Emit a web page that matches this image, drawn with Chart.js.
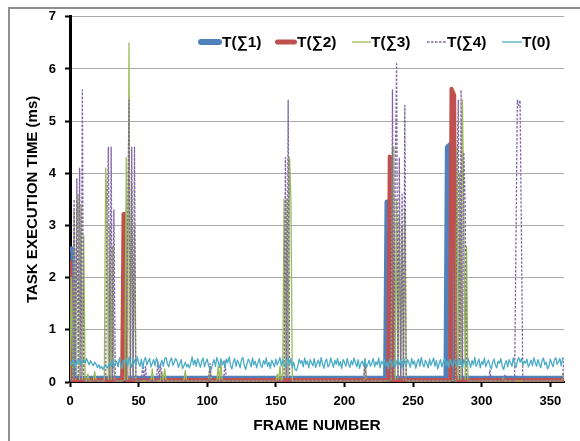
<!DOCTYPE html>
<html><head><meta charset="utf-8">
<script src="https://cdn.jsdelivr.net/npm/chart.js@4.4.1/dist/chart.umd.min.js"></script>
<style>html,body{margin:0;padding:0;background:#fff;}canvas{display:block;}</style>
</head><body>
<canvas id="c" width="580" height="441"></canvas>
<script>
const seriesNames = ['T(\u22111)','T(\u22112)','T(\u22113)','T(\u22114)','T(0)'];
const xTickValues = [0,50,100,150,200,250,300,350];
const xTickLabels = ['0','50','100','150','200','250','300','350'];
const yTickValues = [0,1,2,3,4,5,6,7];
const yTickLabels = ['0','1','2','3','4','5','6','7'];

const s1Frames = [0,2,3,230,231,232,233,274,275,277,278,360];
const s1Values = [2.55,2.55,0.07,0.07,3.45,3.45,0.07,0.07,4.5,4.55,0.07,0.07];

const s2Frames = [0,1,38,39,40,41,232,233,234,235,277,278,280,281,360];
const s2Values = [2.33,0.04,0.04,3.22,3.22,0.04,0.04,4.32,4.3,0.04,0.04,5.62,5.5,0.04,0.04];

const s3Frames = [0,1,2,3,4,5,6,7,8,9,10,11,12,13,14,17,18,19,
  25,26,27,28,29,30,31,32,33,39,40,41,42,43,44,45,46,47,48,
  59,60,61,66,67,68,69,70,83,84,85,101,102,103,107,108,109,110,111,
  150,151,152,153,154,155,156,157,158,159,160,161,162,214,215,216,
  234,235,236,237,238,239,240,241,242,243,244,245,
  281,282,283,284,285,286,287,288,289,290,315,316,317,358,359,360];
const s3Values = [0.02,2.0,0.05,3.3,0.05,3.2,3.6,0.05,3.4,0.05,2.8,0.02,0.02,0.15,0.02,0.02,0.2,0.02,
  0.02,4.1,3.2,0.05,3.0,0.05,2.6,0.25,0.02,0.02,0.05,4.3,0.05,6.5,0.05,3.8,0.05,3.0,0.02,
  0.02,0.25,0.02,0.02,0.2,0.02,0.25,0.02,0.02,0.22,0.02,0.02,0.3,0.02,0.02,0.3,0.02,0.35,0.02,
  0.02,0.15,0.02,0.3,0.02,0.05,3.5,0.1,3.5,0.1,4.3,3.5,0.02,0.02,0.45,0.02,
  0.02,4.5,4.5,0.05,3.5,0.05,3.2,0.05,3.0,0.05,3.3,0.02,
  0.02,4.5,0.05,4.0,0.05,5.4,3.2,0.05,2.6,0.02,0.02,0.08,0.02,0.02,0.05,0.18];

const s4Frames = [0,1,2,3,4,5,6,7,8,9,10,
  26,27,28,29,30,31,32,33,41,42,43,44,45,46,47,48,
  52,53,54,55,56,63,64,65,66,67,101,102,103,112,113,114,
  155,156,157,158,159,160,161,214,215,216,225,226,227,
  234,235,236,237,238,239,240,241,242,243,244,245,
  281,282,283,284,285,286,287,288,289,290,305,306,307,316,317,318,
  324,326,327,328,330,358,359,360];
const s4Values = [0.02,0.05,0.05,3.5,0.05,3.9,0.05,4.1,0.05,5.6,0.02,
  0.02,3.3,4.5,0.05,4.5,0.05,3.3,0.02,0.02,3.0,5.4,0.05,4.5,0.05,4.5,0.02,
  0.02,0.35,0.05,0.3,0.02,0.02,0.4,0.05,0.35,0.02,0.02,0.35,0.02,0.02,0.42,0.02,
  0.02,0.05,4.3,0.1,5.4,0.05,0.02,0.02,0.4,0.02,0.02,0.1,0.02,
  0.02,5.6,0.05,4.0,6.1,0.05,4.3,0.05,3.6,0.05,5.3,0.02,
  0.02,4.0,5.4,0.05,5.6,0.05,4.4,3.4,0.05,0.02,0.02,0.23,0.02,0.02,0.13,0.02,
  0.02,5.4,5.3,5.4,0.02,0.02,0.1,0.45];

const t0Values = [
  0.40,0.33,0.42,0.38,0.30,0.41,0.36,0.44,0.34,0.40,0.43,0.37,0.45,0.39,0.33,0.41,0.35,0.31,0.38,0.34,
  0.28,0.33,0.26,0.30,0.24,0.29,0.33,0.27,0.31,0.36,0.30,0.44,0.28,0.35,0.40,0.29,0.46,0.33,0.26,0.42,
  0.38,0.45,0.30,0.47,0.36,0.28,0.46,0.40,0.32,0.48,0.37,0.30,0.44,0.26,0.41,0.47,0.33,0.39,0.45,0.29,
  0.36,0.43,0.31,0.46,0.38,0.27,0.34,0.42,0.30,0.44,0.47,0.35,0.29,0.41,0.46,0.32,0.38,0.45,0.40,0.28,
  0.35,0.43,0.26,0.31,0.38,0.29,0.34,0.27,0.36,0.48,0.33,0.42,0.30,0.45,0.37,0.28,0.40,0.46,0.29,0.38,
  0.44,0.31,0.26,0.24,0.36,0.43,0.30,0.47,0.39,0.28,0.45,0.33,0.40,0.27,0.44,0.37,0.48,0.31,0.25,0.38,
  0.45,0.30,0.42,0.36,0.27,0.43,0.47,0.32,0.24,0.35,0.44,0.38,0.29,0.46,0.33,0.40,0.27,0.37,0.45,0.31,
  0.28,0.41,0.34,0.46,0.30,0.38,0.26,0.42,0.36,0.29,0.44,0.33,0.39,0.47,0.31,0.43,0.35,0.28,0.41,0.46,
  0.33,0.45,0.27,0.38,0.24,0.22,0.30,0.44,0.36,0.41,0.29,0.46,0.34,0.40,0.27,0.43,0.37,0.31,0.45,0.28,
  0.36,0.42,0.30,0.47,0.35,0.26,0.39,0.44,0.29,0.33,0.46,0.37,0.28,0.42,0.34,0.45,0.31,0.39,0.26,0.43,
  0.38,0.30,0.45,0.35,0.28,0.41,0.33,0.46,0.37,0.29,0.43,0.26,0.36,0.40,0.31,0.44,0.28,0.34,0.42,0.30,
  0.37,0.45,0.29,0.39,0.33,0.46,0.27,0.40,0.35,0.43,0.31,0.38,0.25,0.44,0.36,0.30,0.42,0.28,0.39,0.45,
  0.33,0.41,0.27,0.46,0.36,0.31,0.43,0.37,0.28,0.45,0.34,0.40,0.26,0.38,0.44,0.30,0.47,0.35,0.29,0.42,
  0.36,0.27,0.44,0.32,0.39,0.46,0.30,0.41,0.25,0.35,0.43,0.29,0.38,0.45,0.31,0.40,0.28,0.44,0.35,0.30,
  0.42,0.37,0.29,0.46,0.34,0.40,0.27,0.43,0.36,0.31,0.45,0.38,0.28,0.41,0.33,0.47,0.30,0.36,0.44,0.27,
  0.39,0.34,0.46,0.29,0.37,0.42,0.31,0.25,0.38,0.44,0.33,0.27,0.40,0.36,0.45,0.30,0.24,0.35,0.41,0.29,
  0.43,0.37,0.30,0.46,0.34,0.28,0.41,0.47,0.38,0.45,0.32,0.40,0.36,0.44,0.29,0.35,0.42,0.31,0.46,0.38,
  0.30,0.43,0.35,0.27,0.41,0.46,0.33,0.38,0.25,0.30,0.44,0.36,0.29,0.42,0.47,0.34,0.39,0.45,0.31,0.46,0.44];

const FONT = "'Liberation Sans', Arial, sans-serif";
const pts = (f, v) => f.map((x, i) => ({x: x, y: v[i]}));
const t0Frames = t0Values.map((_, i) => i);

const styles = [
  {color:'#4F81BD', width:5, dash:[], order:5},
  {color:'#C0504D', width:4, dash:[], order:4},
  {color:'#9BBB59', width:1.3, dash:[], order:3},
  {color:'#8064A2', width:1.3, dash:[2.5,1.5], order:2},
  {color:'#4BACC6', width:1.3, dash:[], order:1}
];
const seriesData = [pts(s1Frames,s1Values), pts(s2Frames,s2Values), pts(s3Frames,s3Values), pts(s4Frames,s4Values), pts(t0Frames,t0Values)];

const datasets = seriesNames.map((name, i) => ({
  label: name,
  data: seriesData[i],
  borderColor: styles[i].color,
  backgroundColor: styles[i].color,
  borderWidth: styles[i].width,
  borderDash: styles[i].dash,
  borderJoinStyle: 'round',
  order: styles[i].order,
  pointRadius: 0,
  tension: 0,
  fill: false
}));

const framePlugin = {
  id: 'frame',
  beforeDraw(chart) {
    const ctx = chart.ctx;
    ctx.save();
    ctx.fillStyle = '#fff';
    ctx.fillRect(0, 0, chart.width, chart.height);
    ctx.strokeStyle = '#8f8f8f';
    ctx.lineWidth = 2;
    ctx.beginPath();
    ctx.moveTo(9, 441);
    ctx.lineTo(9, 8);
    ctx.lineTo(580, 8);
    ctx.stroke();
    ctx.restore();
  }
};

const legendPlugin = {
  id: 'customLegend',
  afterDraw(chart) {
    const ctx = chart.ctx;
    const starts = [198, 275, 352, 427, 502];
    const lens = [24, 22, 19, 20, 20];
    const y = 42;
    ctx.save();
    ctx.font = "bold 15.5px " + FONT;
    ctx.textBaseline = 'middle';
    ctx.fillStyle = '#000';
    chart.data.datasets.forEach((ds, i) => {
      const x0 = starts[i], len = lens[i];
      ctx.beginPath();
      ctx.strokeStyle = ds.borderColor;
      if (i < 2) {
        const w = i === 0 ? 6 : 5;
        ctx.lineWidth = w;
        ctx.lineCap = 'round';
        ctx.setLineDash([]);
        ctx.moveTo(x0 + w / 2, y);
        ctx.lineTo(x0 + len - w / 2, y);
      } else {
        ctx.lineWidth = 1.3;
        ctx.lineCap = 'butt';
        ctx.setLineDash(ds.borderDash || []);
        ctx.moveTo(x0, y);
        ctx.lineTo(x0 + len, y);
      }
      ctx.stroke();
      ctx.setLineDash([]);
      ctx.fillText(ds.label, x0 + len, y + 0.5);
    });
    ctx.restore();
  }
};

new Chart(document.getElementById('c'), {
  type: 'line',
  data: {datasets: datasets},
  plugins: [framePlugin, legendPlugin],
  options: {
    responsive: false,
    animation: false,
    layout: {padding: {left: 0, right: 16, top: 16, bottom: 0}},
    plugins: {legend: {display: false}, tooltip: {enabled: false}},
    scales: {
      x: {
        type: 'linear', min: 0, max: 360,
        afterFit(s) { s.height = 59; },
        afterBuildTicks(s) { s.ticks = xTickValues.map(v => ({value: v})); },
        ticks: {font: {family: FONT, size: 13, weight: 'bold'}, color: '#000', padding: 7, maxRotation: 0, autoSkip: false,
                callback: (v, i) => xTickLabels[i]},
        grid: {drawOnChartArea: false, drawTicks: true, tickLength: 5, tickColor: '#000', tickWidth: 2},
        border: {display: true, color: '#000', width: 2},
        title: {display: true, text: 'FRAME NUMBER', color: '#000',
                font: {family: FONT, size: 15.5, weight: 'bold'}, padding: {top: 0, bottom: 6}}
      },
      y: {
        min: 0, max: 7,
        afterFit(s) { s.width = 70; },
        afterBuildTicks(s) { s.ticks = yTickValues.map(v => ({value: v})); },
        ticks: {font: {family: FONT, size: 13, weight: 'bold'}, color: '#000', padding: 9,
                callback: (v, i) => yTickLabels[i]},
        grid: {color: '#aaaaaa', lineWidth: 1, drawTicks: true, tickLength: 5, tickColor: '#000', tickWidth: 2},
        border: {display: true, color: '#000', width: 3},
        title: {display: true, text: 'TASK EXECUTION TIME (ms)', color: '#000',
                font: {family: FONT, size: 15, weight: 'bold'}, padding: {top: 24, bottom: 0}}
      }
    }
  }
});
</script>
</body></html>
